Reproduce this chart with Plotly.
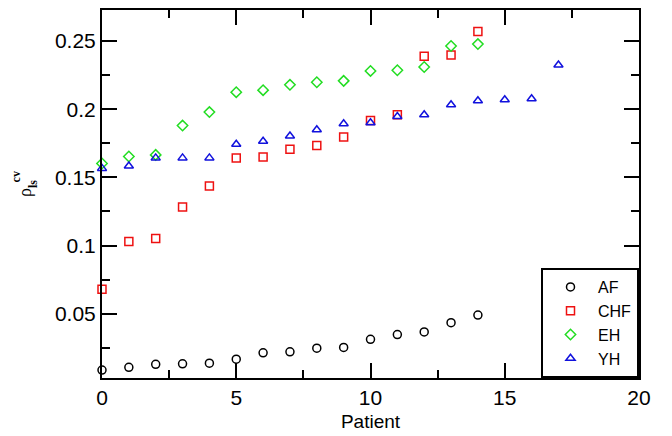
import plotly.graph_objects as go

patients_af = list(range(15))
af = [0.0086, 0.0106, 0.0128, 0.0132, 0.0137, 0.0166, 0.0213, 0.0220, 0.0247, 0.0252,
      0.0312, 0.0347, 0.0366, 0.0434, 0.0490]
patients_chf = list(range(15))
chf = [0.068, 0.103, 0.1052, 0.1283, 0.1436, 0.1643, 0.165, 0.1707, 0.1734, 0.1796,
       0.1918, 0.196, 0.2388, 0.2398, 0.257]
patients_eh = list(range(15))
eh = [0.1602, 0.1653, 0.1665, 0.188, 0.1979, 0.2125, 0.214, 0.2179, 0.2198, 0.2208,
      0.2281, 0.2286, 0.231, 0.2464, 0.2478]
patients_yh = list(range(18))
yh = [0.1566, 0.1583, 0.1643, 0.1643, 0.1643, 0.1743, 0.1765, 0.1804, 0.185, 0.1894,
      0.1901, 0.1947, 0.196, 0.2033, 0.2062, 0.2069, 0.2077, 0.2325]

y_tickvals = [0.05, 0.1, 0.15, 0.2, 0.25]
y_ticktext = ["0.05", "0.1", "0.15", "0.2", "0.25"]
x_tickvals = [0, 5, 10, 15, 20]

series = [
    ("AF", patients_af, af, "circle-open", "black"),
    ("CHF", patients_chf, chf, "square-open", "#ee1111"),
    ("EH", patients_eh, eh, "diamond-open", "#22dd22"),
    ("YH", patients_yh, yh, "triangle-up-open", "#1111dd"),
]

SANS = "Liberation Sans, Arial, sans-serif"

fig = go.Figure()
for name, xs, ys, sym, col in series:
    fig.add_trace(go.Scatter(
        x=xs, y=ys, mode="markers", name=name, cliponaxis=False,
        marker=dict(symbol=sym, size=8, color=col, line=dict(color=col, width=1.5)),
    ))

axis_common = dict(
    showline=True, linewidth=2, linecolor="black", mirror="ticks",
    ticks="inside", ticklen=15, tickwidth=2, tickcolor="black",
    showgrid=False, zeroline=False,
    tickfont=dict(family=SANS, size=21, color="black"),
)

fig.update_xaxes(
    range=[0, 20], tickvals=x_tickvals,
    minor=dict(ticks="inside", ticklen=8, tickwidth=2, tickcolor="black", dtick=2.5, tick0=0),
    title=dict(text="Patient", font=dict(family=SANS, size=19, color="black"), standoff=6),
    **axis_common,
)
fig.update_yaxes(
    range=[0.0028, 0.2728], tickvals=y_tickvals, ticktext=y_ticktext,
    minor=dict(ticks="inside", ticklen=8, tickwidth=2, tickcolor="black", dtick=0.025, tick0=0),
    **axis_common,
)

# stacked y-axis label: rho with superscript cv and subscript ls
label_parts = [
    ("ρ", 18, -77, 0.503, "Liberation Serif, serif"),
    ("<b>cv</b>", 12, -86, 0.545, "Liberation Serif, serif"),
    ("<b>ls</b>", 12, -69, 0.527, "Liberation Serif, serif"),
]
for txt, sz, xs_, yp, fam in label_parts:
    fig.add_annotation(
        text=txt, xref="paper", yref="paper", x=0, y=yp, xshift=xs_,
        showarrow=False, textangle=-90, xanchor="center", yanchor="middle",
        font=dict(family=fam, size=sz, color="black"),
    )

fig.update_layout(
    width=664, height=428,
    margin=dict(l=94, r=33, t=0, b=58),
    plot_bgcolor="white", paper_bgcolor="white",
    legend=dict(
        x=1, y=0, xanchor="right", yanchor="bottom",
        bordercolor="black", borderwidth=2, bgcolor="white",
        font=dict(family=SANS, size=16, color="black"),
        itemwidth=45, tracegroupgap=0,
    ),
)

fig.write_html("out.html")
